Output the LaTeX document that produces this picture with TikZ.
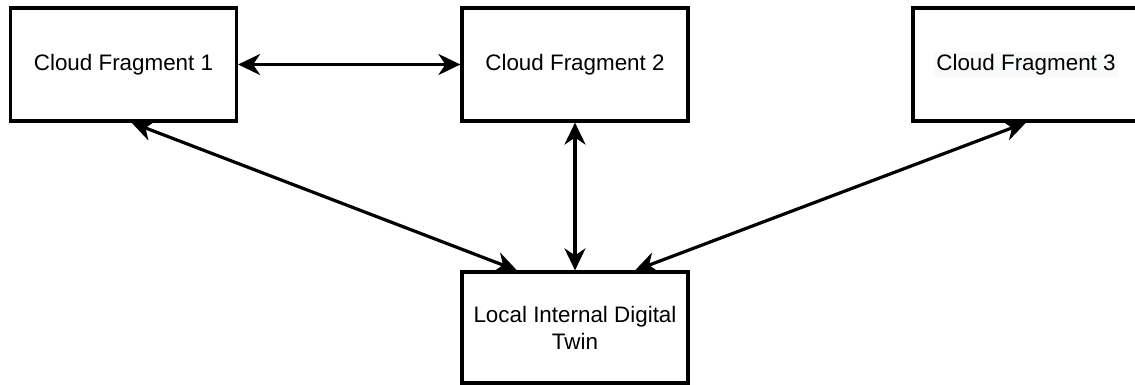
\documentclass[tikz,border=0pt]{standalone}
\usepackage{fontspec}
\setmainfont{Liberation Sans}
\usepackage{tikz}
\usetikzlibrary{positioning, calc, arrows.meta}
\definecolor{hlgray}{HTML}{F8F9FA}

\begin{document}
\begin{tikzpicture}[x=0.5pt, y=-0.5pt,
        box/.style={draw, line width=1.6pt, minimum width=113pt, minimum height=56.5pt, inner sep=0pt, align=center, font=\fontsize{11.2}{13.5}\selectfont},
        link/.style={line width=1.6pt, {Stealth[length=11pt, width=10.5pt, inset=3.5pt]}-{Stealth[length=11pt, width=10.5pt, inset=3.5pt]}}]

        \useasboundingbox (0, 0) rectangle (1135, 385);
        %\draw[help lines] (0, 0) grid[step=50] (1135, 385);

        \node[box] (frag1) at (123.5, 64.5) {Cloud Fragment 1};
        \node[box] (frag2) at (575, 64.5) {Cloud Fragment 2};
        \node[box] (frag3) at (1026, 64.5) {\setlength{\fboxsep}{1pt}\colorbox{hlgray}{Cloud Fragment 3}};
        \node[box, minimum height=55.5pt] (twin) at (575, 327.5) {Local Internal Digital\\Twin};

        \draw[link] (frag1) -- (frag2);
        \draw[link] (frag2) -- (twin);
        \draw[link] ([xshift=4pt]frag1.south) -- ([xshift=-29pt]twin.north);
        \draw[link] (frag3.south) -- ([xshift=30pt]twin.north);
      \end{tikzpicture}
\end{document}
